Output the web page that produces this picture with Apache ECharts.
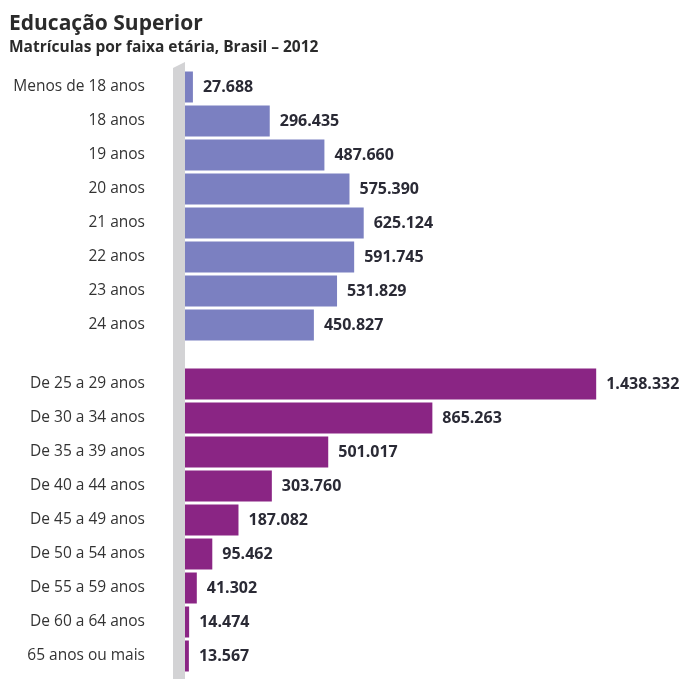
<!DOCTYPE html>
<html>
<head>
<meta charset="utf-8">
<script src="https://cdn.jsdelivr.net/npm/echarts@6/dist/echarts.min.js"></script>
<style>
html,body{margin:0;padding:0;background:#fff;}
#chart{width:679px;height:679px;}
</style>
</head>
<body>
<div id="chart"></div>
<script>
// idades individuais (grupo de cima)
var agesSingle = ['Menos de 18 anos', '18 anos', '19 anos', '20 anos', '21 anos', '22 anos', '23 anos', '24 anos'];
var valuesSingle = [27688, 296435, 487660, 575390, 625124, 591745, 531829, 450827];
// faixas etárias (grupo de baixo)
var agesRange = ['De 25 a 29 anos', 'De 30 a 34 anos', 'De 35 a 39 anos', 'De 40 a 44 anos', 'De 45 a 49 anos',
    'De 50 a 54 anos', 'De 55 a 59 anos', 'De 60 a 64 anos', '65 anos ou mais'];
var valuesRange = [1438332, 865263, 501017, 303760, 187082, 95462, 41302, 14474, 13567];

var colorSingle = '#7b80c1';
var colorRange = '#8a2584';
var fontFam = '"Open Sans", "Noto Sans", sans-serif';

function fmt(v){
    return String(v).replace(/\B(?=(\d{3})+(?!\d))/g, '.');
}

var myChart = echarts.init(document.getElementById('chart'));

function xAx(idx){
    return {
        type: 'value', gridIndex: idx, min: 0, max: 1700000,
        show: false
    };
}
function yAx(idx, cats){
    return {
        type: 'category', gridIndex: idx, data: cats, inverse: true,
        axisLine: {show: false}, axisTick: {show: false}, splitLine: {show: false},
        axisLabel: {margin: 40, fontSize: 15.5, color: '#333', fontFamily: fontFam}
    };
}
function barSeries(idx, vals, color){
    return {
        type: 'bar', xAxisIndex: idx, yAxisIndex: idx, data: vals,
        barWidth: 31, silent: true,
        itemStyle: {color: color},
        label: {
            show: true, position: 'right', distance: 10,
            fontSize: 16, fontWeight: 'bold', color: '#2a2a35', fontFamily: fontFam,
            formatter: function(p){ return fmt(p.value); }
        }
    };
}

var option = {
    backgroundColor: '#fff',
    animation: false,
    title: [
        {text: 'Educação Superior', left: 9, top: 14, padding: 0,
         textStyle: {fontSize: 21, fontWeight: 'bold', color: '#2b2b2b', fontFamily: fontFam}},
        {text: 'Matrículas por faixa etária, Brasil – 2012', left: 9, top: 40, padding: 0,
         textStyle: {fontSize: 15.5, fontWeight: 'bold', color: '#2b2b2b', fontFamily: fontFam}}
    ],
    graphic: [{
        type: 'polygon', z: -1,
        shape: {points: [[173, 68], [185, 62], [185, 679], [173, 679]]},
        style: {fill: '#d3d3d5'}
    }],
    grid: [
        {left: 185, width: 486, top: 70, height: 272},
        {left: 185, width: 486, top: 367, height: 306}
    ],
    xAxis: [xAx(0), xAx(1)],
    yAxis: [yAx(0, agesSingle), yAx(1, agesRange)],
    series: [
        barSeries(0, valuesSingle, colorSingle),
        barSeries(1, valuesRange, colorRange)
    ]
};
myChart.setOption(option);
</script>
</body>
</html>
